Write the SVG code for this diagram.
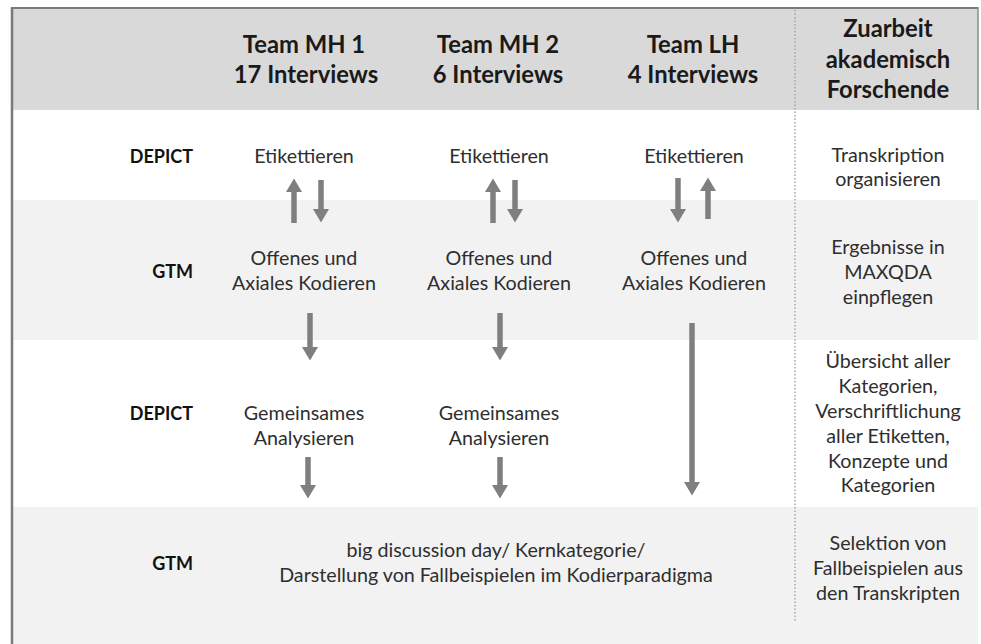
<svg xmlns="http://www.w3.org/2000/svg" width="981" height="644" viewBox="0 0 981 644">
<style>
  text { font-family: Lato, "Open Sans", "Liberation Sans", sans-serif; fill: #262626; text-anchor: middle; }
  .hd { font-size: 23.8px; font-weight: bold; fill: #1a1a1a; }
  .lb { font-size: 18px; font-weight: bold; fill: #111; text-anchor: end; }
  .tx { font-size: 19.7px; fill: #2e2e2e; }
  .rc { font-size: 19.7px; fill: #2e2e2e; }
  .arr { stroke: #7f7f7f; stroke-width: 5.5; fill: none; marker-end: url(#ah); }
</style>
<defs>
  <marker id="ah" markerUnits="userSpaceOnUse" markerWidth="16" markerHeight="18" viewBox="0 -9 14 18" refX="0" refY="0" orient="auto">
    <path d="M0,-8 L13.5,0 L0,8 Z" fill="#7f7f7f"/>
  </marker>
</defs>
<rect x="0" y="0" width="981" height="644" fill="#ffffff"/>
<g id="bands">
  <rect x="13" y="9" width="965" height="101" fill="#d9d9d9"/>
  <rect x="13" y="200" width="965" height="140" fill="#f2f2f2"/>
  <rect x="13" y="507" width="965" height="137" fill="#f2f2f2"/>
  <line x1="12" y1="8" x2="978" y2="8" stroke="#7a7a7a" stroke-width="2"/>
  <line x1="12" y1="7" x2="12" y2="644" stroke="#7a7a7a" stroke-width="2.5"/>
  <line x1="978" y1="7" x2="978" y2="110" stroke="#8a8a8a" stroke-width="1.5"/>
  <line x1="795" y1="10" x2="795" y2="622" stroke="#a8a8a8" stroke-width="1.5" stroke-dasharray="1.5 2"/>
</g>
<g id="header-mh1"><text class="hd" x="304" y="53">Team MH 1</text><text class="hd" x="306" y="83">17 Interviews</text></g>
<g id="header-mh2"><text class="hd" x="498" y="53">Team MH 2</text><text class="hd" x="498" y="83">6 Interviews</text></g>
<g id="header-lh"><text class="hd" x="693" y="53">Team LH</text><text class="hd" x="693" y="83">4 Interviews</text></g>
<g id="header-zuarbeit"><text class="hd" x="888" y="37">Zuarbeit</text><text class="hd" x="888" y="68">akademisch</text><text class="hd" x="888" y="98">Forschende</text></g>

<g id="label-depict-1"><text class="lb" x="193" y="163">DEPICT</text></g>
<g id="label-gtm-1"><text class="lb" x="193" y="278">GTM</text></g>
<g id="label-depict-2"><text class="lb" x="193" y="420">DEPICT</text></g>
<g id="label-gtm-2"><text class="lb" x="193" y="570">GTM</text></g>

<g id="mh1-etikettieren"><text class="tx" x="304" y="163">Etikettieren</text></g>
<g id="mh2-etikettieren"><text class="tx" x="499" y="163">Etikettieren</text></g>
<g id="lh-etikettieren"><text class="tx" x="694" y="163">Etikettieren</text></g>

<g id="mh1-kodieren"><text class="tx" x="304" y="265">Offenes und</text><text class="tx" x="304" y="290">Axiales Kodieren</text></g>
<g id="mh2-kodieren"><text class="tx" x="499" y="265">Offenes und</text><text class="tx" x="499" y="290">Axiales Kodieren</text></g>
<g id="lh-kodieren"><text class="tx" x="694" y="265">Offenes und</text><text class="tx" x="694" y="290">Axiales Kodieren</text></g>

<g id="mh1-analysieren"><text class="tx" x="304" y="420">Gemeinsames</text><text class="tx" x="304" y="445">Analysieren</text></g>
<g id="mh2-analysieren"><text class="tx" x="499" y="420">Gemeinsames</text><text class="tx" x="499" y="445">Analysieren</text></g>

<g id="big-discussion"><text class="tx" x="496" y="557">big discussion day/ Kernkategorie/</text><text class="tx" x="496" y="582">Darstellung von Fallbeispielen im Kodierparadigma</text></g>

<g id="zu-transkription"><text class="rc" x="888" y="162">Transkription</text><text class="rc" x="888" y="186">organisieren</text></g>
<g id="zu-maxqda"><text class="rc" x="888" y="254">Ergebnisse in</text><text class="rc" x="888" y="279">MAXQDA</text><text class="rc" x="888" y="304">einpflegen</text></g>
<g id="zu-uebersicht"><text class="rc" x="888" y="368">Übersicht aller</text><text class="rc" x="888" y="393">Kategorien,</text><text class="rc" x="888" y="418">Verschriftlichung</text><text class="rc" x="888" y="443">aller Etiketten,</text><text class="rc" x="888" y="468">Konzepte und</text><text class="rc" x="888" y="492">Kategorien</text></g>
<g id="zu-selektion"><text class="rc" x="888" y="550">Selektion von</text><text class="rc" x="888" y="575">Fallbeispielen aus</text><text class="rc" x="888" y="600">den Transkripten</text></g>

<g id="connectors">
  <line class="arr" x1="294" y1="223" x2="294" y2="192"/>
  <line class="arr" x1="321" y1="180" x2="321" y2="209"/>
  <line class="arr" x1="493" y1="223" x2="493" y2="192"/>
  <line class="arr" x1="515" y1="180" x2="515" y2="209"/>
  <line class="arr" x1="678" y1="178" x2="678" y2="209"/>
  <line class="arr" x1="708" y1="219" x2="708" y2="191"/>
  <line class="arr" x1="310" y1="313" x2="310" y2="347"/>
  <line class="arr" x1="500" y1="313" x2="500" y2="347"/>
  <line class="arr" x1="692" y1="323" x2="692" y2="482"/>
  <line class="arr" x1="308" y1="457" x2="308" y2="485"/>
  <line class="arr" x1="500" y1="457" x2="500" y2="485"/>
</g>
</svg>
